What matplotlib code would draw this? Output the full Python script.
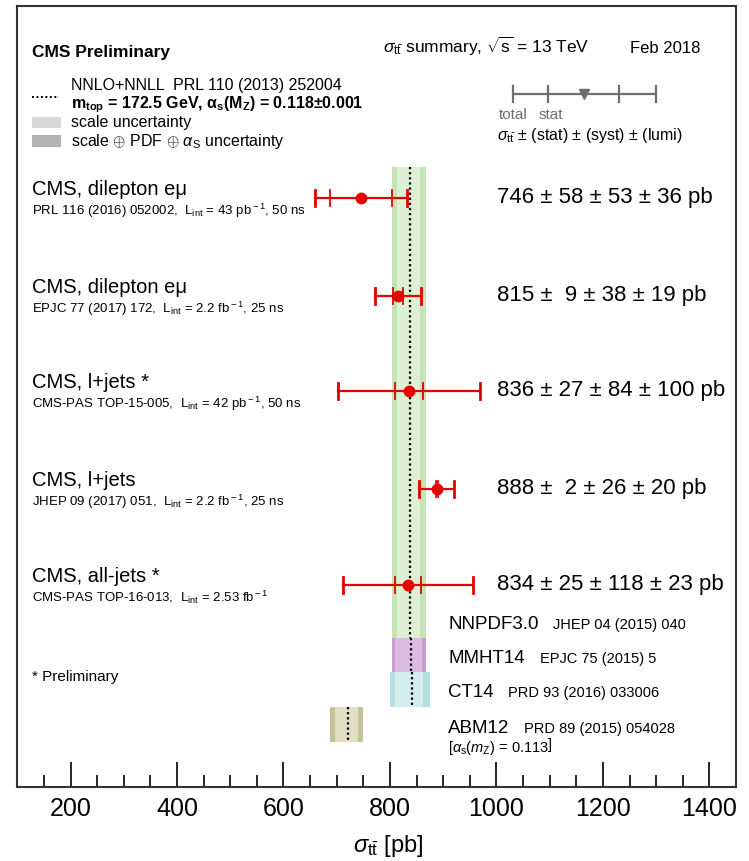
import numpy as np
import matplotlib.pyplot as plt
from matplotlib.patches import Rectangle
from matplotlib.ticker import MultipleLocator

plt.rcParams['font.family'] = ['Liberation Sans', 'DejaVu Sans']
plt.rcParams['mathtext.fontset'] = 'custom'
plt.rcParams['mathtext.rm'] = 'Liberation Sans'
plt.rcParams['mathtext.it'] = 'Liberation Sans:italic'
plt.rcParams['mathtext.bf'] = 'Liberation Sans:bold'

# measurements (pb)
titles = ["CMS, dilepton eμ", "CMS, dilepton eμ", "CMS, l+jets *", "CMS, l+jets", "CMS, all-jets *"]
refs = [r"PRL 116 (2016) 052002,  L$_{\rm int}$ = 43 pb$^{\rm -1}$, 50 ns",
        r"EPJC 77 (2017) 172,  L$_{\rm int}$ = 2.2 fb$^{\rm -1}$, 25 ns",
        r"CMS-PAS TOP-15-005,  L$_{\rm int}$ = 42 pb$^{\rm -1}$, 50 ns",
        r"JHEP 09 (2017) 051,  L$_{\rm int}$ = 2.2 fb$^{\rm -1}$, 25 ns",
        r"CMS-PAS TOP-16-013,  L$_{\rm int}$ = 2.53 fb$^{\rm -1}$"]
xsec = [746, 815, 836, 888, 834]
stat = [58, 9, 27, 2, 25]
syst = [53, 38, 84, 26, 118]
lumi = [36, 19, 100, 20, 23]

# theory predictions (pb)
pdf_names = ["NNPDF3.0", "MMHT14", "CT14", "ABM12"]
pdf_refs = ["JHEP 04 (2015) 040", "EPJC 75 (2015) 5", "PRD 93 (2016) 033006", "PRD 89 (2015) 054028"]
pdf_central = [838, 840, 841, 721]
pdf_scale_lo = [814, 810, 810, 697]
pdf_scale_hi = [857, 860, 862, 740]
pdf_tot_lo = [804, 803, 801, 688]
pdf_tot_hi = [868, 867, 875, 749]
pdf_outer = ["#c6e5b6", "#c89dd0", "#b5dfe1", "#c3c299"]
pdf_inner = ["#ddf0d4", "#dbbbe0", "#d3ecef", "#e0dfc4"]

W, H = 749, 861
fig = plt.figure(figsize=(W / 100, H / 100), dpi=100)
x0, x1, y0, y1 = 17.3, 736, 6, 787
ax = fig.add_axes([x0 / W, 1 - y1 / H, (x1 - x0) / W, (y1 - y0) / H])
ax.set_xlim(100, 1450)
ax.set_ylim(y1, y0)  # y in pixel rows

# overlay in pixel coordinates for text and legend
ov = fig.add_axes([0, 0, 1, 1], facecolor='none')
ov.set_xlim(0, W)
ov.set_ylim(H, 0)
ov.axis('off')

# theory bands
band_y = [(167, 638), (638, 672), (672, 707), (707, 742)]
for i in range(len(pdf_names)):
    ya, yb = band_y[i]
    ax.fill_betweenx([ya, yb], pdf_tot_lo[i], pdf_tot_hi[i], color=pdf_outer[i], lw=0, zorder=1)
    ax.fill_betweenx([ya, yb], pdf_scale_lo[i], pdf_scale_hi[i], color=pdf_inner[i], lw=0, zorder=2)
    ax.plot([pdf_central[i]] * 2, [ya, yb], color='black', ls=(0, (1, 1.3)), lw=1.6, zorder=3)

# measurements
red = '#e60000'
ypos = [198, 296, 391, 489, 585]
for i in range(len(xsec)):
    y = ypos[i]
    tot = np.sqrt(stat[i] ** 2 + syst[i] ** 2 + lumi[i] ** 2)
    ax.plot([xsec[i] - tot, xsec[i] + tot], [y, y], color=red, lw=1.6, zorder=4)
    for xx in (xsec[i] - tot, xsec[i] + tot):
        ax.plot([xx, xx], [y - 8, y + 8], color=red, lw=2.0, zorder=4)
    for xx in (xsec[i] - stat[i], xsec[i] + stat[i]):
        ax.plot([xx, xx], [y - 8, y + 8], color=red, lw=1.3, zorder=4)
    ax.plot(xsec[i], y, 'o', color=red, ms=7.5, zorder=5)
    ov.text(32, y - 3, titles[i], fontsize=14.5, va='baseline')
    ov.text(32, y + 17, refs[i], fontsize=9.5, va='baseline')
    ov.text(497, y + 5, f"{xsec[i]} ± {stat[i]:>2} ± {syst[i]} ± {lumi[i]} pb",
            fontsize=16, va='baseline')

# pdf labels
name_y = [629, 663, 697, 733]
ref_x = [553, 540, 508, 524]
for i in range(len(pdf_names)):
    ov.text(448, name_y[i], pdf_names[i], fontsize=13.5, va='baseline')
    ov.text(ref_x[i], name_y[i], pdf_refs[i], fontsize=10.5, va='baseline')
ov.text(448, 752, r"$\left[\alpha_{\rm s}(m_{\rm Z})\right.$ = 0.113$\left.\right]$", fontsize=10.5, va='baseline')

ov.text(32, 681, "* Preliminary", fontsize=11, va='baseline')

# header
ov.text(32, 57, "CMS Preliminary", fontsize=12.5, fontweight='bold', va='baseline')
ov.text(383, 53, r"$\sigma_{\rm t\bar{t}}$ summary, $\sqrt{\rm s}$ = 13 TeV", fontsize=12.5, va='baseline')
ov.text(630, 53, "Feb 2018", fontsize=12, va='baseline')

# left legend
ov.plot([32, 59], [97, 97], color='black', ls=(0, (1, 1.3)), lw=1.4)
ov.text(71, 90, "NNLO+NNLL  PRL 110 (2013) 252004", fontsize=11.5, va='baseline')
ov.text(71, 108, r"$\mathbf{m_{top}}$ = 172.5 GeV, $\mathbf{\alpha_s(M_Z)}$ = 0.118±0.001",
        fontsize=11.5, fontweight='bold', va='baseline')
ov.add_patch(Rectangle((32, 117), 29, 11, color='#d9d9d9', lw=0))
ov.text(71, 127, "scale uncertainty", fontsize=11.5, va='baseline')
ov.add_patch(Rectangle((32, 135), 29, 12, color='#b3b3b3', lw=0))
ov.text(71, 146, r"scale $\oplus$ PDF $\oplus$ $\alpha_{\rm S}$ uncertainty", fontsize=11.5, va='baseline')

# right legend sketch
grey = '#6e6e6e'
ov.plot([513, 656], [94, 94], color=grey, lw=1.6)
for xx in (513, 548, 619, 656):
    ov.plot([xx, xx], [86, 102], color=grey, lw=1.6)
ov.plot(584, 94, 'v', color=grey, ms=7)
ov.text(513, 119, "total", fontsize=11, color=grey, ha='center', va='baseline')
ov.text(551, 119, "stat", fontsize=11, color=grey, ha='center', va='baseline')
ov.text(497, 140, r"$\sigma_{\rm t\bar{t}}$ ± (stat) ± (syst) ± (lumi)", fontsize=11.5, va='baseline')

# axis
ax.set_yticks([])
ax.set_xticks(range(200, 1401, 200))
ax.xaxis.set_minor_locator(MultipleLocator(50))
ax.tick_params(axis='x', which='major', direction='in', length=18, width=1.2, labelsize=18, pad=7)
ax.tick_params(axis='x', which='minor', direction='in', length=9, width=1.2)
for sp in ax.spines.values():
    sp.set_linewidth(1.5)
    sp.set_color('#333333')
ov.text(388, 852, r"$\sigma_{\rm t\bar{t}}$ [pb]", fontsize=17, ha='center', va='baseline')

fig.savefig("out.png", dpi=100)
